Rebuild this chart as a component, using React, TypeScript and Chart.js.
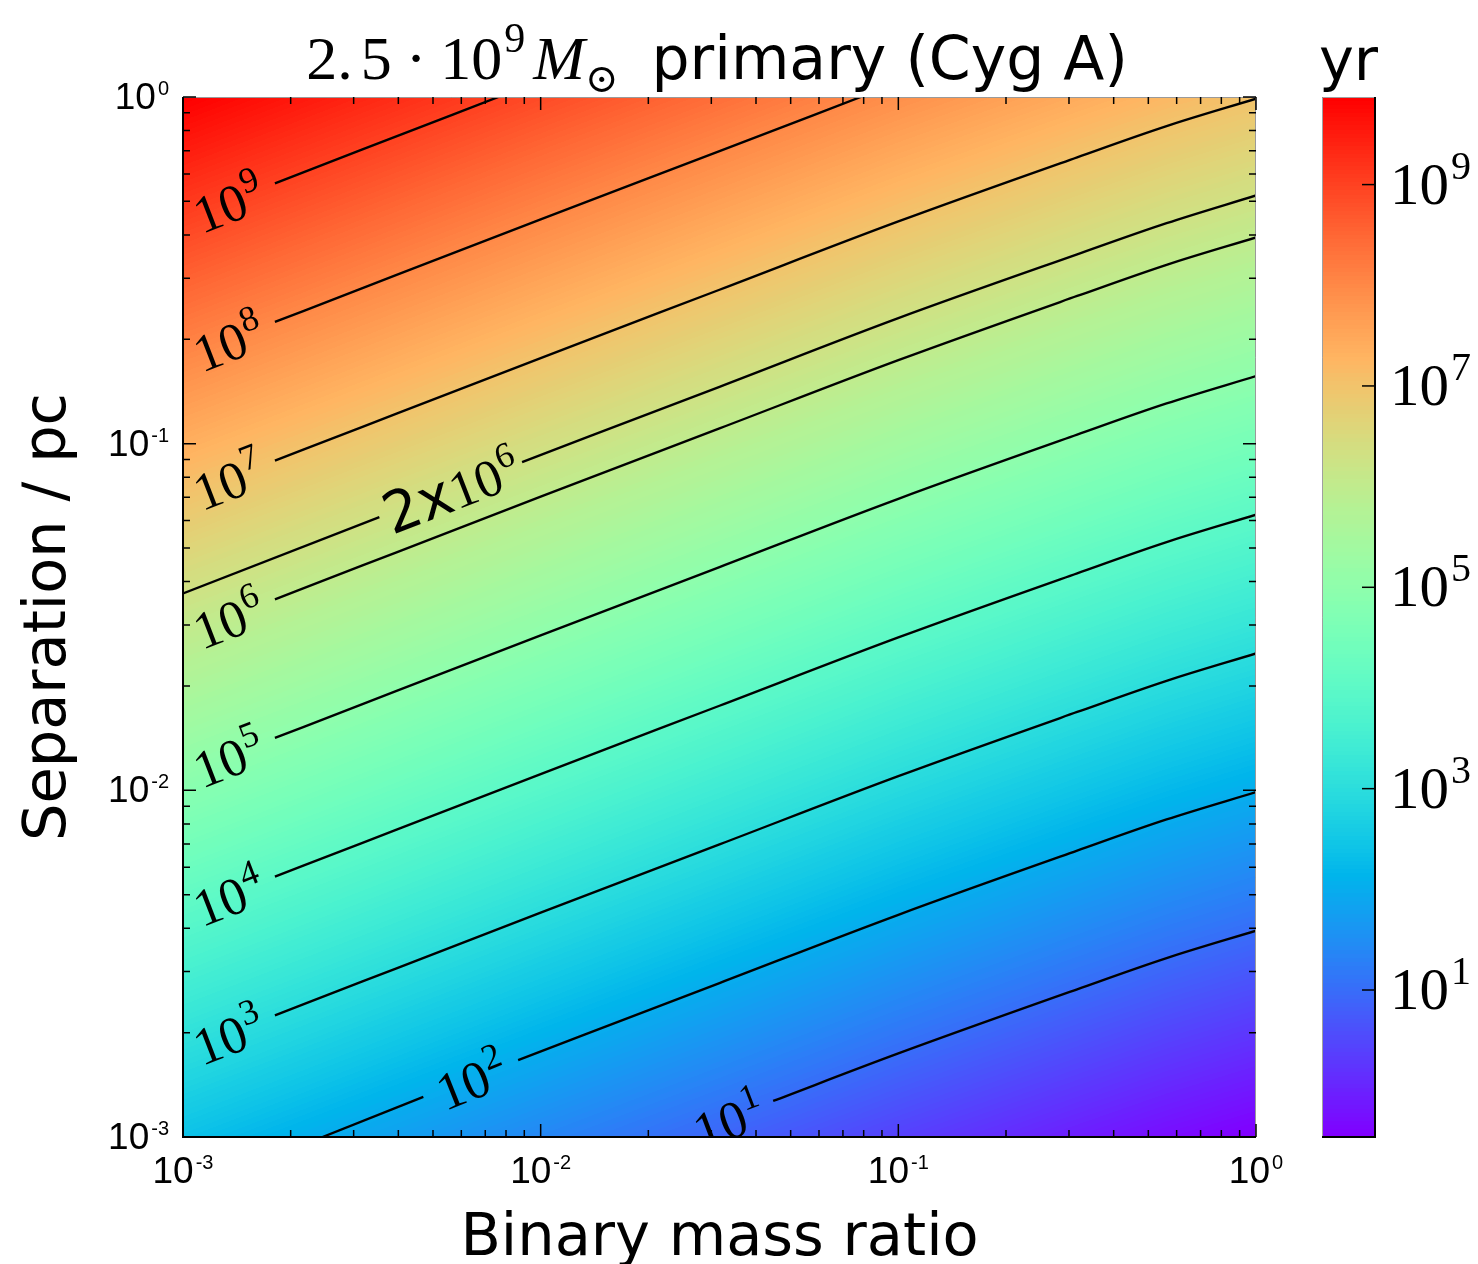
import React, { useEffect, useRef } from "react";
import { Chart, registerables } from "chart.js";

Chart.register(...registerables);

const W = 1478;
const H = 1264;

// ---------------- data (log10 exponents) ----------------
const xTickExps = [-3, -2, -1, 0];
const yTickExps = [-3, -2, -1, 0];
const cbTickExps = [1, 3, 5, 7, 9];
const cbRangeExp = [-0.46, 9.87];

// background field: log10(t / yr) on a grid of log10(q) (columns) x log10(a) (rows)
const fieldLogQ = [-3, -2, -1, -0.5, -0.25, 0];
const fieldLogA = [-3, -2, -1, 0];
const fieldLogT = [
  [2.38, 1.382, 0.397, -0.065, -0.29, -0.488],
  [4.88, 3.882, 2.897, 2.435, 2.21, 2.012],
  [7.38, 6.382, 5.397, 4.935, 4.71, 4.512],
  [9.88, 8.882, 7.897, 7.435, 7.21, 7.012],
];

// contour levels and their lines: segments of [log10 q, log10 a]
const contourLevels = ["10^9", "10^8", "10^7", "2x10^6", "10^6", "10^5", "10^4", "10^3", "10^2", "10^1"];
const line1e9 = [[[-2.743, -0.249], [-2.5, -0.152], [-2.118, 0]]];
const line1e8 = [[[-2.743, -0.649], [-2.5, -0.552], [-2, -0.353], [-1.5, -0.156], [-1.105, 0]]];
const line1e7 = [[[-2.743, -1.049], [-2.5, -0.952], [-2, -0.753], [-1.5, -0.556], [-1, -0.359], [-0.5, -0.174], [-0.25, -0.084], [0, -0.005]]];
const line2e6 = [
  [[-3, -1.432], [-2.451, -1.212]],
  [[-2.052, -1.053], [-1.5, -0.836], [-1, -0.638], [-0.5, -0.454], [-0.25, -0.364], [0, -0.284]],
];
const line1e6 = [[[-2.743, -1.449], [-2.5, -1.352], [-2, -1.153], [-1.5, -0.956], [-1, -0.759], [-0.5, -0.574], [-0.25, -0.484], [0, -0.405]]];
const line1e5 = [[[-2.743, -1.849], [-2.5, -1.752], [-2, -1.553], [-1.5, -1.356], [-1, -1.159], [-0.5, -0.974], [-0.25, -0.884], [0, -0.805]]];
const line1e4 = [[[-2.743, -2.249], [-2.5, -2.152], [-2, -1.953], [-1.5, -1.756], [-1, -1.559], [-0.5, -1.374], [-0.25, -1.284], [0, -1.205]]];
const line1e3 = [[[-2.743, -2.649], [-2.5, -2.552], [-2, -2.353], [-1.5, -2.156], [-1, -1.959], [-0.5, -1.774], [-0.25, -1.684], [0, -1.605]]];
const line1e2 = [
  [[-2.61, -3], [-2.328, -2.884]],
  [[-2.063, -2.778], [-1.5, -2.556], [-1, -2.359], [-0.5, -2.174], [-0.25, -2.084], [0, -2.005]],
];
const line1e1 = [[[-1.35, -2.896], [-1, -2.759], [-0.5, -2.574], [-0.25, -2.484], [0, -2.405]]];
const contourLines = [line1e9, line1e8, line1e7, line2e6, line1e6, line1e5, line1e4, line1e3, line1e2, line1e1];

// inline label anchors (log10 q, log10 a), same order as contourLevels
const labelLogQ = [-2.874, -2.874, -2.874, -2.251, -2.874, -2.874, -2.874, -2.874, -2.195, -1.476];
const labelLogA = [-0.302, -0.702, -1.102, -1.133, -1.502, -1.902, -2.302, -2.702, -2.831, -2.946];

const titleMath = ["2.", "5", "\u00B7", "10", "9", "M", "\u2299"];
const titleText = "primary (Cyg A)";
const xAxisTitle = "Binary mass ratio";
const yAxisTitle = "Separation / pc";
const cbTitle = "yr";

// ---------------- styles ----------------
const SERIF = "'Liberation Serif', 'DejaVu Serif', serif";
const SANS = "'DejaVu Sans', sans-serif";
const TICKSANS = "'Liberation Sans', Arial, sans-serif";
const CB_LEFT = 1322;
const CB_RIGHT = 1375;

function rainbowLUT(): number[][] {
  const lut: number[][] = [];
  for (let i = 0; i < 256; i++) {
    const t = i / 255;
    const r = Math.min(1, Math.abs(2 * t - 0.5));
    const g = Math.sin(Math.PI * t);
    const b = Math.cos((Math.PI * t) / 2);
    lut.push([Math.round(r * 255), Math.round(g * 255), Math.round(b * 255)]);
  }
  return lut;
}
const LUT = rainbowLUT();

function locate(arr: number[], v: number): [number, number] {
  if (v <= arr[0]) return [0, (v - arr[0]) / (arr[1] - arr[0])];
  for (let i = 0; i < arr.length - 1; i++) {
    if (v <= arr[i + 1]) return [i, (v - arr[i]) / (arr[i + 1] - arr[i])];
  }
  const n = arr.length - 2;
  return [n, (v - arr[n]) / (arr[n + 1] - arr[n])];
}

type Piece = { text: string; font: string; dy?: number; dx?: number };
function drawPieces(ctx: CanvasRenderingContext2D, pieces: Piece[], x: number, y: number, align: "left" | "center" | "right") {
  ctx.textAlign = "left";
  ctx.textBaseline = "alphabetic";
  let total = 0;
  const ws = pieces.map((p) => {
    ctx.font = p.font;
    const w = ctx.measureText(p.text).width + (p.dx || 0);
    total += w;
    return w;
  });
  let cx = align === "left" ? x : align === "center" ? x - total / 2 : x - total;
  pieces.forEach((p, i) => {
    ctx.font = p.font;
    ctx.fillText(p.text, cx + (p.dx || 0), y + (p.dy || 0));
    cx += ws[i];
  });
  return total;
}

function expText(e: number) {
  return e < 0 ? "-" + String(-e) : String(e);
}

const heatmapPlugin = {
  id: "heatmap",
  beforeDatasetsDraw(chart: any) {
    const { ctx, chartArea: ca, scales } = chart;
    const cb = scales.cb;
    const w = Math.round(ca.right - ca.left);
    const h = Math.round(ca.bottom - ca.top);
    const off = document.createElement("canvas");
    off.width = w;
    off.height = h;
    const octx = off.getContext("2d")!;
    const img = octx.createImageData(w, h);
    const cols = [] as [number, number][];
    for (let i = 0; i < w; i++) cols.push(locate(fieldLogQ, Math.log10(scales.x.getValueForPixel(ca.left + i + 0.5))));
    const cbTop = cb.getPixelForValue(Math.pow(10, cbRangeExp[1]));
    const cbBot = cb.getPixelForValue(Math.pow(10, cbRangeExp[0]));
    for (let j = 0; j < h; j++) {
      const [ri, rf] = locate(fieldLogA, Math.log10(scales.y.getValueForPixel(ca.top + j + 0.5)));
      const r0 = fieldLogT[ri];
      const r1 = fieldLogT[ri + 1];
      for (let i = 0; i < w; i++) {
        const [ci, cf] = cols[i];
        const a = r0[ci] + (r0[ci + 1] - r0[ci]) * cf;
        const b = r1[ci] + (r1[ci + 1] - r1[ci]) * cf;
        const v = a + (b - a) * rf;
        const p = cb.getPixelForValue(Math.pow(10, v));
        const t = (cbBot - p) / (cbBot - cbTop);
        let k = Math.floor(t * 256);
        if (k < 0) k = 0;
        if (k > 255) k = 255;
        const c = LUT[k];
        const o = (j * w + i) * 4;
        img.data[o] = c[0];
        img.data[o + 1] = c[1];
        img.data[o + 2] = c[2];
        img.data[o + 3] = 255;
      }
    }
    octx.putImageData(img, 0, 0);
    ctx.drawImage(off, ca.left, ca.top);
  },
};

function labelPieces(label: string, big: number): Piece[] {
  const m = label.match(/^(.*?)10\^(\d+)$/)!;
  const pieces: Piece[] = [];
  if (m[1]) pieces.push({ text: m[1], font: `${big + 4}px ${SANS}` });
  pieces.push({ text: "10", font: `${big}px ${SERIF}` });
  pieces.push({ text: m[2], font: `${Math.round(big * 0.68)}px ${SERIF}`, dy: -Math.round(big * 0.42), dx: 1 });
  return pieces;
}

const overlayPlugin = {
  id: "overlay",
  afterDatasetsDraw(chart: any) {
    const { ctx, chartArea: ca, scales } = chart;
    ctx.save();
    ctx.beginPath();
    ctx.rect(ca.left, ca.top, ca.right - ca.left, ca.bottom - ca.top);
    ctx.clip();
    ctx.fillStyle = "#000";
    contourLevels.forEach((lvl, i) => {
      const px = scales.x.getPixelForValue(Math.pow(10, labelLogQ[i]));
      const py = scales.y.getPixelForValue(Math.pow(10, labelLogA[i]));
      // orientation from the nearest segment of the contour line
      let best: any = null;
      let bestD = Infinity;
      contourLines[i].forEach((seg: number[][]) => {
        for (let k = 0; k < seg.length - 1; k++) {
          const mid = (seg[k][0] + seg[k + 1][0]) / 2;
          const d = Math.abs(mid - labelLogQ[i]);
          if (d < bestD) {
            bestD = d;
            best = [seg[k], seg[k + 1]];
          }
        }
      });
      const x1 = scales.x.getPixelForValue(Math.pow(10, best[0][0]));
      const y1 = scales.y.getPixelForValue(Math.pow(10, best[0][1]));
      const x2 = scales.x.getPixelForValue(Math.pow(10, best[1][0]));
      const y2 = scales.y.getPixelForValue(Math.pow(10, best[1][1]));
      const ang = Math.atan2(y2 - y1, x2 - x1);
      ctx.save();
      ctx.translate(px, py);
      ctx.rotate(ang);
      drawPieces(ctx, labelPieces(lvl, 53), 0, 21, "center");
      ctx.restore();
    });
    ctx.restore();
  },
  afterDraw(chart: any) {
    const { ctx, chartArea: ca, scales } = chart;
    const xs = scales.x;
    const ys = scales.y;
    const cb = scales.cb;
    ctx.save();

    // ---- colorbar ----
    const cbTop = cb.getPixelForValue(Math.pow(10, cbRangeExp[1]));
    const cbBot = cb.getPixelForValue(Math.pow(10, cbRangeExp[0]));
    for (let y = Math.floor(cbTop); y < Math.ceil(cbBot); y++) {
      const t = (cbBot - (y + 0.5)) / (cbBot - cbTop);
      let k = Math.floor(t * 256);
      if (k < 0) k = 0;
      if (k > 255) k = 255;
      const c = LUT[k];
      ctx.fillStyle = `rgb(${c[0]},${c[1]},${c[2]})`;
      ctx.fillRect(CB_LEFT, y, CB_RIGHT - CB_LEFT, 1);
    }
    ctx.strokeStyle = "#a0a0a0";
    ctx.lineWidth = 1;
    ctx.beginPath();
    ctx.moveTo(CB_LEFT + 0.5, cbBot);
    ctx.lineTo(CB_LEFT + 0.5, cbTop + 0.5);
    ctx.lineTo(CB_RIGHT, cbTop + 0.5);
    ctx.stroke();
    ctx.strokeStyle = "#000";
    ctx.lineWidth = 2;
    ctx.beginPath();
    ctx.moveTo(CB_RIGHT, cbTop);
    ctx.lineTo(CB_RIGHT, cbBot);
    ctx.lineTo(CB_LEFT, cbBot);
    ctx.stroke();
    ctx.lineWidth = 1.5;
    ctx.fillStyle = "#000";
    cbTickExps.forEach((e) => {
      const y = cb.getPixelForValue(Math.pow(10, e));
      ctx.beginPath();
      ctx.moveTo(CB_RIGHT, y);
      ctx.lineTo(CB_RIGHT - 13, y);
      ctx.stroke();
      drawPieces(
        ctx,
        [
          { text: "10", font: `59px ${SERIF}` },
          { text: String(e), font: `40px ${SERIF}`, dy: -25, dx: 2 },
        ],
        1390,
        y + 19,
        "left"
      );
    });
    ctx.font = `59px ${SANS}`;
    ctx.textAlign = "center";
    ctx.textBaseline = "alphabetic";
    ctx.fillText(cbTitle, (CB_LEFT + CB_RIGHT) / 2, 80);

    // ---- spines ----
    ctx.strokeStyle = "#9a9a9a";
    ctx.lineWidth = 1;
    ctx.beginPath();
    ctx.moveTo(ca.left, ca.top + 0.5);
    ctx.lineTo(ca.right - 0.5, ca.top + 0.5);
    ctx.lineTo(ca.right - 0.5, ca.bottom);
    ctx.stroke();
    ctx.strokeStyle = "#000";
    ctx.lineWidth = 2;
    ctx.beginPath();
    ctx.moveTo(ca.left, ca.top);
    ctx.lineTo(ca.left, ca.bottom);
    ctx.lineTo(ca.right, ca.bottom);
    ctx.stroke();

    // ---- ticks ----
    ctx.lineWidth = 1.5;
    const tick = (horizontal: boolean, v: number, len: number) => {
      if (horizontal) {
        const x = xs.getPixelForValue(v);
        ctx.beginPath();
        ctx.moveTo(x, ca.bottom);
        ctx.lineTo(x, ca.bottom - len);
        ctx.moveTo(x, ca.top);
        ctx.lineTo(x, ca.top + len);
        ctx.stroke();
      } else {
        const y = ys.getPixelForValue(v);
        ctx.beginPath();
        ctx.moveTo(ca.left, y);
        ctx.lineTo(ca.left + len, y);
        ctx.moveTo(ca.right, y);
        ctx.lineTo(ca.right - len, y);
        ctx.stroke();
      }
    };
    xTickExps.forEach((e, i) => {
      tick(true, Math.pow(10, e), 13);
      if (i < xTickExps.length - 1) for (let m = 2; m <= 9; m++) tick(true, m * Math.pow(10, e), 7);
    });
    yTickExps.forEach((e, i) => {
      tick(false, Math.pow(10, e), 13);
      if (i < yTickExps.length - 1) for (let m = 2; m <= 9; m++) tick(false, m * Math.pow(10, e), 7);
    });

    // ---- tick labels ----
    ctx.fillStyle = "#000";
    const tickPieces = (e: number): Piece[] => [
      { text: "10", font: `37px ${TICKSANS}` },
      { text: expText(e), font: `20px ${TICKSANS}`, dy: -14, dx: 2 },
    ];
    xTickExps.forEach((e) => {
      drawPieces(ctx, tickPieces(e), xs.getPixelForValue(Math.pow(10, e)), 1183, "center");
    });
    yTickExps.forEach((e) => {
      drawPieces(ctx, tickPieces(e), 169, ys.getPixelForValue(Math.pow(10, e)) + 12, "right");
    });

    // ---- axis titles ----
    ctx.font = `59px ${SANS}`;
    ctx.textAlign = "center";
    ctx.textBaseline = "alphabetic";
    ctx.fillText(xAxisTitle, (ca.left + ca.right) / 2, 1255);
    ctx.save();
    ctx.translate(65, (ca.top + ca.bottom) / 2);
    ctx.rotate(-Math.PI / 2);
    ctx.fillText(yAxisTitle, 0, 0);
    ctx.restore();

    // ---- title ----
    drawPieces(
      ctx,
      [
        { text: titleMath[0], font: `62px ${SERIF}` },
        { text: titleMath[1], font: `62px ${SERIF}`, dx: 8 },
        { text: titleMath[2], font: `62px ${SERIF}`, dx: 14 },
        { text: titleMath[3], font: `62px ${SERIF}`, dx: 14 },
        { text: titleMath[4], font: `42px ${SERIF}`, dy: -27, dx: 2 },
        { text: titleMath[5], font: `italic 62px ${SERIF}`, dx: 8 },
        { text: titleMath[6], font: `40px 'DejaVu Serif', serif`, dy: 13, dx: 0 },
        { text: titleText, font: `60px ${SANS}`, dx: 33 },
      ],
      717,
      79,
      "center"
    );
    ctx.restore();
  },
};

export default function App() {
  const ref = useRef<HTMLCanvasElement>(null);
  useEffect(() => {
    document.body.style.margin = "0";
    const canvas = ref.current!;
    const datasets: any[] = [];
    contourLevels.forEach((lvl, i) => {
      contourLines[i].forEach((seg: number[][]) => {
        datasets.push({
          label: lvl,
          data: seg.map(([lq, la]) => ({ x: Math.pow(10, lq), y: Math.pow(10, la) })),
          showLine: true,
          borderColor: "#000",
          borderWidth: 2.4,
          pointRadius: 0,
          pointHoverRadius: 0,
          cubicInterpolationMode: "monotone",
          clip: 0,
          xAxisID: "x",
          yAxisID: "y",
        });
      });
    });
    const chart = new Chart(canvas, {
      type: "scatter",
      data: { datasets },
      options: {
        animation: false,
        responsive: false,
        devicePixelRatio: 1,
        events: [],
        layout: { padding: { left: 183, right: W - 1256, top: 97, bottom: H - 1137 } },
        plugins: { legend: { display: false }, tooltip: { enabled: false }, title: { display: false } },
        scales: {
          x: { type: "logarithmic", bounds: "data", min: 1e-3, max: 1, display: false },
          y: { type: "logarithmic", bounds: "data", min: 1e-3, max: 1, display: false },
          cb: {
            type: "logarithmic",
            axis: "y",
            position: "right",
            bounds: "data",
            min: Math.pow(10, cbRangeExp[0]),
            max: Math.pow(10, cbRangeExp[1]),
            display: false,
          },
        },
      } as any,
      plugins: [heatmapPlugin, overlayPlugin],
    });
    return () => chart.destroy();
  }, []);
  return (
    <div style={{ position: "absolute", left: 0, top: 0 }}>
      <canvas ref={ref} width={W} height={H} style={{ display: "block", width: W, height: H }} />
    </div>
  );
}
